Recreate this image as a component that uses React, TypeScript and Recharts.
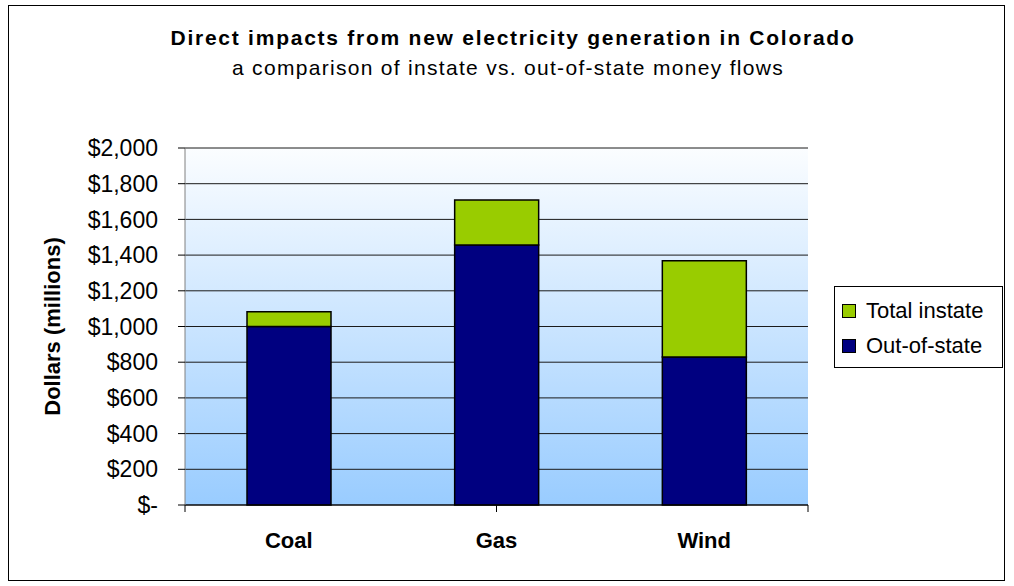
import { Bar, BarChart, CartesianGrid, XAxis, YAxis } from "recharts";

const categories = ["Coal", "Gas", "Wind"];
const outOfState = [1000, 1457, 829];
const totalInstate = [83, 252, 540];
const yTicks = [0, 200, 400, 600, 800, 1000, 1200, 1400, 1600, 1800, 2000];
const boundaryTicks = [0, 1, 2, 3];

const data = categories.map((name, i) => ({
  name,
  outOfState: outOfState[i],
  totalInstate: totalInstate[i],
}));

const NAVY = "#000080";
const GREEN = "#99CC00";
const FONT = "'Liberation Sans', Arial, sans-serif";

const formatDollar = (v: number) => (v === 0 ? "$-" : `$${v.toLocaleString("en-US")}`);

const legendItems = [
  { label: "Total instate", color: GREEN },
  { label: "Out-of-state", color: NAVY },
];

export default function App() {
  return (
    <div
      style={{
        position: "absolute",
        left: 0,
        top: 0,
        width: 1014,
        height: 586,
        background: "#fff",
        fontFamily: FONT,
      }}
    >
      <div
        style={{
          position: "absolute",
          left: 8,
          top: 5,
          width: 997,
          height: 576,
          border: "1px solid #000",
          boxSizing: "border-box",
        }}
      />
      <div
        style={{
          position: "absolute",
          left: 0,
          width: 1026,
          top: 24,
          textAlign: "center",
          fontWeight: "bold",
          fontSize: 21,
          letterSpacing: 1.75,
          lineHeight: "28px",
        }}
      >
        Direct impacts from new electricity generation in Colorado
      </div>
      <div
        style={{
          position: "absolute",
          left: 0,
          width: 1016,
          top: 54,
          textAlign: "center",
          fontSize: 21,
          letterSpacing: 1.3,
          lineHeight: "28px",
        }}
      >
        a comparison of instate vs. out-of-state money flows
      </div>

      <div style={{ position: "absolute", left: 0, top: 0 }}>
        <BarChart
          width={1014}
          height={586}
          data={data}
          margin={{ top: 148, right: 206, left: 45, bottom: 0 }}
        >
          <defs>
            <linearGradient id="plotBg" x1="0" y1="0" x2="0" y2="1">
              <stop offset="0%" stopColor="#FBFDFF" />
              <stop offset="100%" stopColor="#99CCFF" />
            </linearGradient>
          </defs>
          <CartesianGrid
            vertical={false}
            stroke="#1a1a1a"
            fill="url(#plotBg)"
            fillOpacity={1}
          />
          <XAxis
            dataKey="name"
            xAxisId="b"
            axisLine={false}
            tickLine={false}
            height={80}
            tickMargin={20}
            tick={{ fill: "#000", fontSize: 22, fontWeight: "bold", fontFamily: FONT }}
          />
          <XAxis
            xAxisId="a"
            type="number"
            domain={[0, 3]}
            ticks={boundaryTicks}
            tickFormatter={() => ""}
            height={1}
            axisLine={{ stroke: "#000" }}
            tickLine={{ stroke: "#000" }}
            tickSize={7}
          />
          <YAxis
            width={140}
            domain={[0, 2000]}
            ticks={yTicks}
            interval={0}
            tickFormatter={formatDollar}
            axisLine={{ stroke: "#808080" }}
            tickLine={{ stroke: "#000" }}
            tickSize={7}
            tickMargin={20}
            tick={{ fill: "#000", fontSize: 23, fontFamily: FONT }}
            label={{
              value: "Dollars (millions)",
              angle: -90,
              position: "insideLeft",
              offset: 7,
              style: {
                textAnchor: "middle",
                fontWeight: "bold",
                fontSize: 22,
                fill: "#000",
                fontFamily: FONT,
              },
            }}
          />
          <Bar
            xAxisId="b"
            dataKey="outOfState"
            stackId="s"
            fill={NAVY}
            stroke="#000"
            strokeWidth={1.5}
            barSize={84}
            isAnimationActive={false}
          />
          <Bar
            xAxisId="b"
            dataKey="totalInstate"
            stackId="s"
            fill={GREEN}
            stroke="#000"
            strokeWidth={1.5}
            barSize={84}
            isAnimationActive={false}
          />
        </BarChart>
      </div>

      <div
        style={{
          position: "absolute",
          left: 834,
          top: 286,
          width: 169,
          height: 82,
          border: "1px solid #000",
          boxSizing: "border-box",
          background: "#fff",
          padding: "6px 0 0 7px",
        }}
      >
        {legendItems.map((item) => (
          <div
            key={item.label}
            style={{ display: "flex", alignItems: "center", height: 35, fontSize: 22 }}
          >
            <span
              style={{
                display: "inline-block",
                width: 12,
                height: 12,
                background: item.color,
                border: "1px solid #000",
                marginRight: 10,
              }}
            />
            {item.label}
          </div>
        ))}
      </div>
    </div>
  );
}
